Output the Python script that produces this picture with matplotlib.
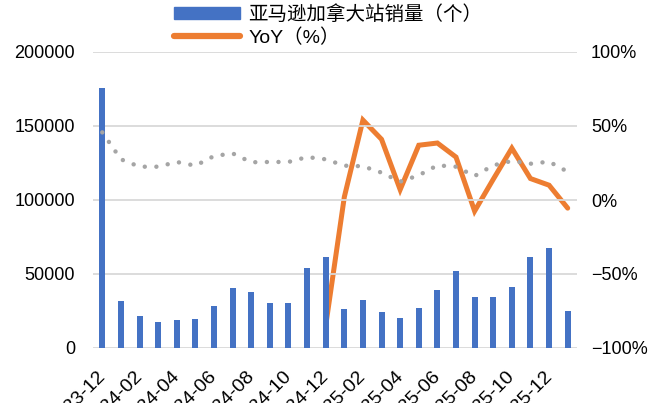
import matplotlib
matplotlib.use("Agg")
import matplotlib.pyplot as plt
import numpy as np
from matplotlib.lines import Line2D
from matplotlib.patches import Patch
from matplotlib.ticker import FuncFormatter

plt.rcParams['font.family'] = ['Liberation Sans', 'Noto Sans CJK SC', 'DejaVu Sans']

months = ['2023-12',
          '2024-01', '2024-02', '2024-03', '2024-04', '2024-05', '2024-06',
          '2024-07', '2024-08', '2024-09', '2024-10', '2024-11', '2024-12',
          '2025-01', '2025-02', '2025-03', '2025-04', '2025-05', '2025-06',
          '2025-07', '2025-08', '2025-09', '2025-10', '2025-11', '2025-12',
          '2026-01']
# 亚马逊加拿大站销量（个）
sales = [176000, 32000, 21400, 17400, 19100, 19600, 28600, 40300, 37800, 30200,
         30600, 54000, 61500, 26400, 32400, 24300, 20300, 27000, 39400, 51800,
         34700, 34700, 41000, 61500, 67600, 25000]
# YoY（%），从2024-12开始
yoy = [None] * 12 + [-85, 2, 54, 41, 7, 37, 38.5, 29, -7.5, 14, 35, 14.5, 10, -5.5]
# 灰色点线（趋势）
trend = [145700, 127500, 122500, 122500, 125700, 123200, 129700, 131500, 125500,
         125700, 125700, 129000, 127500, 123200, 122800, 118500, 112400, 116700,
         123400, 122500, 116200, 123400, 126400, 124500, 125900, 119100]

x = np.arange(len(months))
yoy_x = [i for i, v in enumerate(yoy) if v is not None]
yoy_v = [v for v in yoy if v is not None]

fig = plt.figure(figsize=(6.59, 4.03), dpi=100)
ax = fig.add_axes([93 / 659, 1 - 348 / 403, 484 / 659, 296 / 403])
ax2 = ax.twinx()

ax.bar(x, sales, width=0.32, color='#4472C4', zorder=3)
ax.plot(x, trend, color='#A5A5A5', lw=3.2, linestyle=(0, (0.01, 2.6)),
        dash_capstyle='round', zorder=4)
ax2.plot(yoy_x, yoy_v, color='#ED7D31', lw=3.6, solid_capstyle='round',
         solid_joinstyle='miter', zorder=5)

ax.set_xlim(-0.5, len(months) - 0.5)
ax.set_ylim(0, 200000)
ax.set_yticks([0, 50000, 100000, 150000, 200000])
ax2.set_ylim(-100, 100)
ax2.set_yticks([-100, -50, 0, 50, 100])
ax2.yaxis.set_major_formatter(FuncFormatter(lambda v, p: f"{v:.0f}%".replace('-', '\u2212')))

ax.grid(axis='y', color='#D9D9D9', lw=1.3, zorder=0)
for a in (ax, ax2):
    for s in a.spines.values():
        s.set_visible(False)
    a.tick_params(length=0, labelsize=13, colors='#000000')
ax.tick_params(axis='y', pad=13)
ax2.tick_params(axis='y', pad=10)

ax.set_xticks(x[::2])
ax.set_xticklabels(months[::2], rotation=45, ha='right', va='center',
                   rotation_mode='anchor', fontsize=14)
ax.tick_params(axis='x', pad=19)

ax.set_zorder(ax2.get_zorder() + 1)
ax.patch.set_visible(False)

handles = [Patch(color='#4472C4'),
           Line2D([0], [0], color='#ED7D31', lw=4.5, solid_capstyle='round')]
labels = ['亚马逊加拿大站销量（个）', 'YoY（%）']
fig.legend(handles, labels, loc='upper left', bbox_to_anchor=(164 / 659, 1.012),
           frameon=False, fontsize=14, handlelength=3.4, handleheight=0.6,
           handletextpad=0.45, labelspacing=0.25, borderpad=0)

fig.savefig('out.png', dpi=100)
